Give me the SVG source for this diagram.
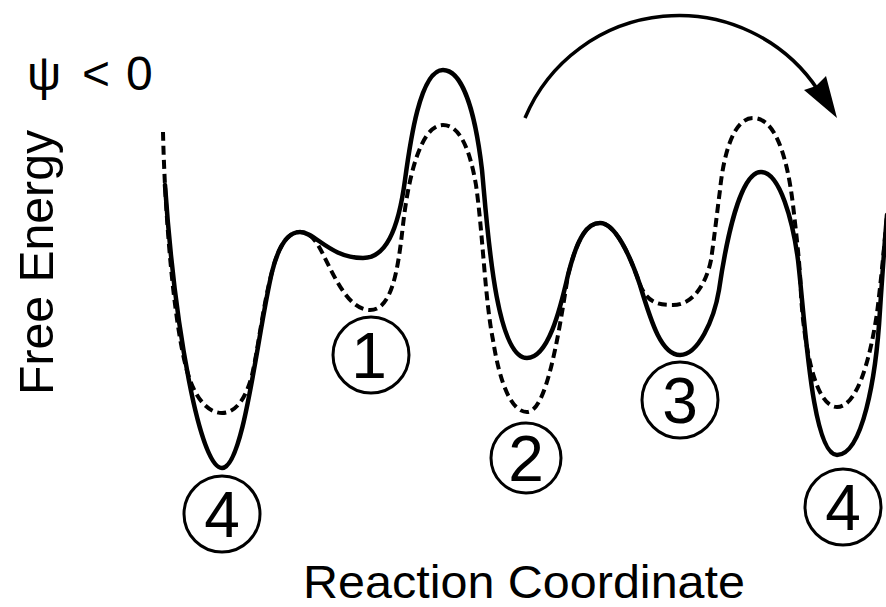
<svg xmlns="http://www.w3.org/2000/svg" width="886" height="607" viewBox="0 0 886 607">
<style>
.solid{fill:none;stroke:#000;stroke-width:4.5;stroke-linecap:round;stroke-linejoin:round}
.dash{fill:none;stroke:#000;stroke-width:4;stroke-dasharray:9 5}
.ring{fill:#fff;stroke:#000;stroke-width:3}
.lbl{font-family:"Liberation Sans",Arial,sans-serif;font-size:64px;fill:#000;text-anchor:middle}
.txt{font-family:"Liberation Sans",Arial,sans-serif;fill:#000}
</style>
<rect width="886" height="607" fill="#fff"/>
<g id="connectors">
<path id="dashed-curve" class="dash" d="M163,132 C165,220 175,340 190,380 C198,402 210,413 222,413 C236,413 246,398 252,375 C258,350 263,305 272,272 C280,240 290,232 300,232 C308,232 313,237 318,245 C330,265 345,310 370,310 C392,310 398,270 403,225 C408,180 420,125 443,125 C460,125 470,150 476,185 C483,235 485,300 493,340 C500,385 512,412 527,412 C546,412 558,340 568,275 C578,235 588,223 600,223 C615,223 630,255 640,285 C648,303 658,305 673,305 C695,305 707,280 711,260 C714,240 718,205 720,190 C724,150 735,118 753,118 C775,118 787,155 793,205 C797,240 800,265 801,295 C804,345 815,407 837,407 C857,407 870,360 877,313 C880,290 884,250 887,215"/>
<path id="solid-curve" class="solid" d="M165,185 C175,330 200,468 222,468 C244,468 258,330 272,272 C280,240 290,232 300,232 C315,232 330,258 363,258 C385,258 398,232 405,180 C410,143 420,70 443,70 C462,70 475,110 482,170 C487,222 495,358 527,358 C548,358 560,310 568,275 C578,235 588,223 600,223 C615,223 630,255 640,285 C652,325 662,355 680,355 C698,355 714,320 719,290 C726,242 740,172 761,172 C780,172 793,222 798,260 C805,320 812,455 837,455 C862,455 876,380 880,310 C882,280 884,250 887,215"/>
<path id="cycle-arrow" fill="none" stroke="#000" stroke-width="3.5" d="M525,118 A167,167 0 0,1 818,90"/>
<polygon id="cycle-arrowhead" fill="#000" points="837,118 804,90 816,86 826,76"/>
</g>
<g id="state-4-left"><circle class="ring" cx="222" cy="514" r="38"/><text class="lbl" x="222" y="537">4</text></g>
<g id="state-1"><circle class="ring" cx="371" cy="355" r="38"/><text class="lbl" x="369" y="378">1</text></g>
<g id="state-2"><circle class="ring" cx="526" cy="458" r="35"/><text class="lbl" x="526" y="481">2</text></g>
<g id="state-3"><circle class="ring" cx="680" cy="400" r="38"/><text class="lbl" x="680" y="423">3</text></g>
<g id="state-4-right"><circle class="ring" cx="843" cy="507" r="38"/><text class="lbl" x="843" y="530">4</text></g>
<g id="axis-labels">
<text class="txt" x="303" y="598" font-size="47" textLength="442" lengthAdjust="spacingAndGlyphs">Reaction Coordinate</text>
<text class="txt" font-size="48" transform="translate(53,395) rotate(-90)" textLength="265" lengthAdjust="spacingAndGlyphs">Free Energy</text>
<text class="txt" font-size="48" y="90"><tspan x="27">ψ</tspan><tspan x="82">&lt;</tspan><tspan x="126">0</tspan></text>
</g>
</svg>
